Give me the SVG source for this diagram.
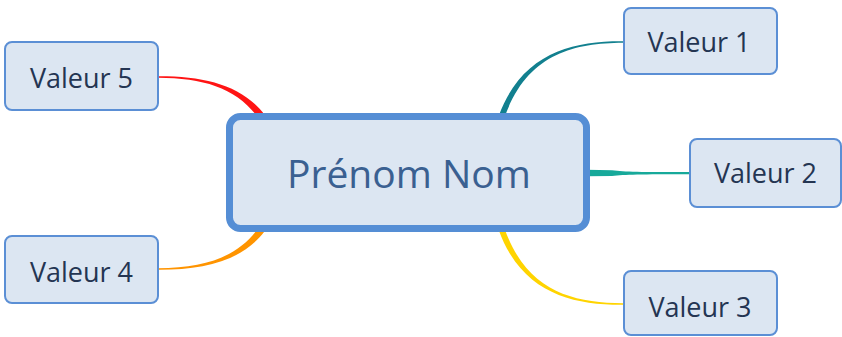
<svg xmlns="http://www.w3.org/2000/svg" width="842" height="337" viewBox="0 0 842 337">
  <style>
    .leaf rect { fill: #dce6f2; stroke: #5b8fd5; stroke-width: 2; }
    .leaf text { font-family: "Open Sans", "Liberation Sans", sans-serif; font-size: 27px; fill: #243552; text-anchor: middle; }
    .root rect { fill: #dce6f2; stroke: #558ed5; stroke-width: 7; }
    .root text { font-family: "Open Sans", "Liberation Sans", sans-serif; font-size: 39px; fill: #3a6091; text-anchor: middle; }
  </style>

  <!-- tapered branches, thick at the central topic -->
  <g id="connectors">
    <path id="branch-1" fill="#12808f" d="M623,41.2 C572,40.8 521.5,53.1 498.7,116 L504.3,118 C526.5,54.9 572,43.2 623,42.8 Z"/>
    <path id="branch-2" fill="#17a99a" d="M586,169.8 L612,170.2 C625,172 640,172 690,172 L690,174.2 C640,174.2 625,174.4 612,176 L586,176.2 Z"/>
    <path id="branch-3" fill="#ffd400" d="M623,304.8 C572,305.2 521.5,292.9 498.7,230 L504.3,228 C526.5,291.1 572,302.8 623,303.2 Z"/>
    <path id="branch-4" fill="#ff9400" d="M158,269.8 C205,270 242.3,260.7 264.8,231.1 L259.2,226.9 C237.7,257.3 205,268 158,268.2 Z"/>
    <path id="branch-5" fill="#ff1414" d="M158,76.2 C205,76 242.3,85.3 264.8,114.9 L259.2,119.1 C237.7,88.7 205,78 158,77.8 Z"/>
  </g>

  <g id="root" class="root">
    <rect x="229.5" y="116.5" width="357" height="112" rx="11"/>
    <text x="409" y="188">Prénom Nom</text>
  </g>

  <g id="leaf-1" class="leaf">
    <rect x="624" y="8" width="153" height="66" rx="7"/>
    <text x="699" y="52">Valeur 1</text>
  </g>
  <g id="leaf-2" class="leaf">
    <rect x="690" y="139" width="151" height="68" rx="7"/>
    <text x="765.5" y="183">Valeur 2</text>
  </g>
  <g id="leaf-3" class="leaf">
    <rect x="624" y="271" width="153" height="64" rx="7"/>
    <text x="700" y="317">Valeur 3</text>
  </g>
  <g id="leaf-4" class="leaf">
    <rect x="5" y="236" width="153" height="67" rx="7"/>
    <text x="81.5" y="282">Valeur 4</text>
  </g>
  <g id="leaf-5" class="leaf">
    <rect x="5" y="42" width="153" height="68" rx="7"/>
    <text x="81.5" y="88">Valeur 5</text>
  </g>
</svg>
